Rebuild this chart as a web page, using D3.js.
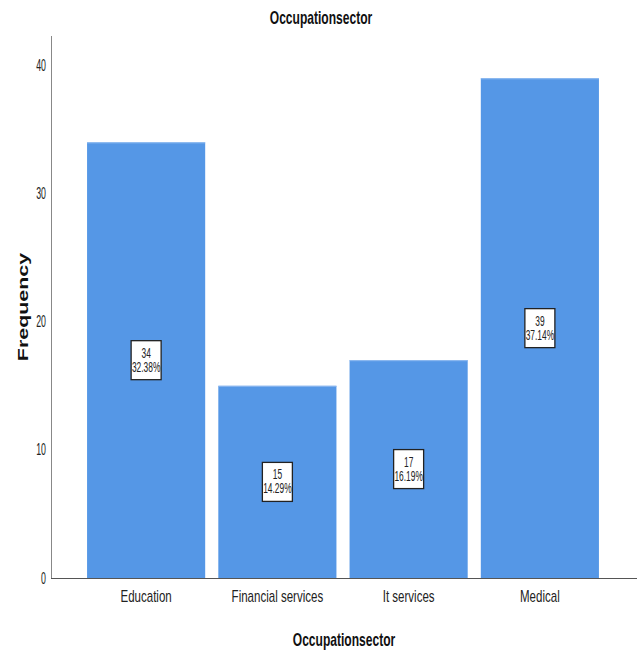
<!DOCTYPE html>
<html>
<head>
<meta charset="utf-8">
<script src="https://cdn.jsdelivr.net/npm/d3@7"></script>
<style>
  html, body { margin: 0; padding: 0; background: #fff; }
  svg { display: block; font-family: "Liberation Sans", Arial, sans-serif; }
</style>
</head>
<body>
<svg id="chart" width="637" height="654"></svg>
<script>
// Frequency of respondents by occupation sector
const categories = ["Education", "Financial services", "It services", "Medical"];
const counts = [34, 15, 17, 39];
const percents = ["32.38%", "14.29%", "16.19%", "37.14%"];
const yTicks = [0, 10, 20, 30, 40];

const W = 637, H = 654;
const margin = { left: 51, right: 0, top: 36, bottom: 76 };
const svg = d3.select("#chart");

const y = d3.scaleLinear()
  .domain([0, 42.3])
  .range([H - margin.bottom, margin.top]);

const x = d3.scaleBand()
  .domain(categories)
  .range([80.5, 605.5])
  .paddingInner(0.1)
  .paddingOuter(0.05);

const bar = "#5597e6";

// bars
svg.append("g").selectAll("rect")
  .data(categories)
  .join("rect")
  .attr("x", d => x(d))
  .attr("width", x.bandwidth())
  .attr("y", (d, i) => y(counts[i]))
  .attr("height", (d, i) => y(0) - y(counts[i]))
  .attr("fill", bar);

// light edge along bar tops
svg.append("g").selectAll("line")
  .data(categories)
  .join("line")
  .attr("x1", d => x(d))
  .attr("x2", d => x(d) + x.bandwidth())
  .attr("y1", (d, i) => y(counts[i]) + 0.5)
  .attr("y2", (d, i) => y(counts[i]) + 0.5)
  .attr("stroke", "#8fbaf0")
  .attr("stroke-width", 1);

// y axis
const tickSX = 0.55;
const gy = svg.append("g")
  .attr("transform", `translate(${margin.left},0)`)
  .call(d3.axisLeft(y).tickValues(yTicks).tickSize(0).tickPadding(5));
gy.select(".domain").remove();
gy.selectAll("text")
  .attr("x", -5 / tickSX)
  .attr("transform", `scale(${tickSX},1)`)
  .attr("font-family", "Liberation Sans, Arial, sans-serif")
  .attr("font-size", 16)
  .attr("fill", "#222");

svg.append("line")
  .attr("x1", margin.left + 0.5).attr("x2", margin.left + 0.5)
  .attr("y1", margin.top).attr("y2", y(0))
  .attr("stroke", "#888").attr("stroke-width", 1);

// x axis
const gx = svg.append("g")
  .attr("transform", `translate(0,${y(0)})`)
  .call(d3.axisBottom(x).tickSize(0).tickPadding(13));
gx.select(".domain").remove();
gx.selectAll("text")
  .attr("transform", "scale(0.72,1)")
  .attr("font-family", "Liberation Sans, Arial, sans-serif")
  .attr("font-size", 16)
  .attr("fill", "#222");

svg.append("line")
  .attr("x1", margin.left).attr("x2", W)
  .attr("y1", y(0) + 0.5).attr("y2", y(0) + 0.5)
  .attr("stroke", "#555").attr("stroke-width", 1);

// value labels in boxes at mid-height of each bar
const lab = svg.append("g").selectAll("g")
  .data(categories)
  .join("g")
  .attr("transform", (d, i) => `translate(${x(d) + x.bandwidth() / 2},${y(counts[i] / 2)})`);

lab.append("rect")
  .attr("x", -15).attr("y", -19.5)
  .attr("width", 30).attr("height", 39)
  .attr("fill", "#fff")
  .attr("stroke", "#222").attr("stroke-width", 1.3);

lab.append("text")
  .attr("text-anchor", "middle")
  .attr("y", -2.5)
  .attr("transform", "scale(0.6,1)")
  .attr("font-size", 14)
  .attr("fill", "#222")
  .text((d, i) => counts[i]);

lab.append("text")
  .attr("text-anchor", "middle")
  .attr("y", 11.5)
  .attr("transform", "scale(0.6,1)")
  .attr("font-size", 14)
  .attr("fill", "#222")
  .text((d, i) => percents[i]);

// titles
function title(tx, ty, txt) {
  svg.append("g")
    .attr("transform", `translate(${tx},${ty})`)
    .append("text")
    .attr("text-anchor", "middle")
    .attr("transform", "scale(0.67,1)")
    .attr("font-size", 18).attr("font-weight", "bold")
    .attr("fill", "#111")
    .text(txt);
}
title(321, 24, "Occupationsector");
title((margin.left + W) / 2, 646, "Occupationsector");

svg.append("text")
  .attr("transform", `translate(28,307) rotate(-90) scale(1.43,1)`)
  .attr("text-anchor", "middle")
  .attr("font-size", 15).attr("font-weight", "bold")
  .attr("fill", "#111")
  .text("Frequency");
</script>
</body>
</html>
